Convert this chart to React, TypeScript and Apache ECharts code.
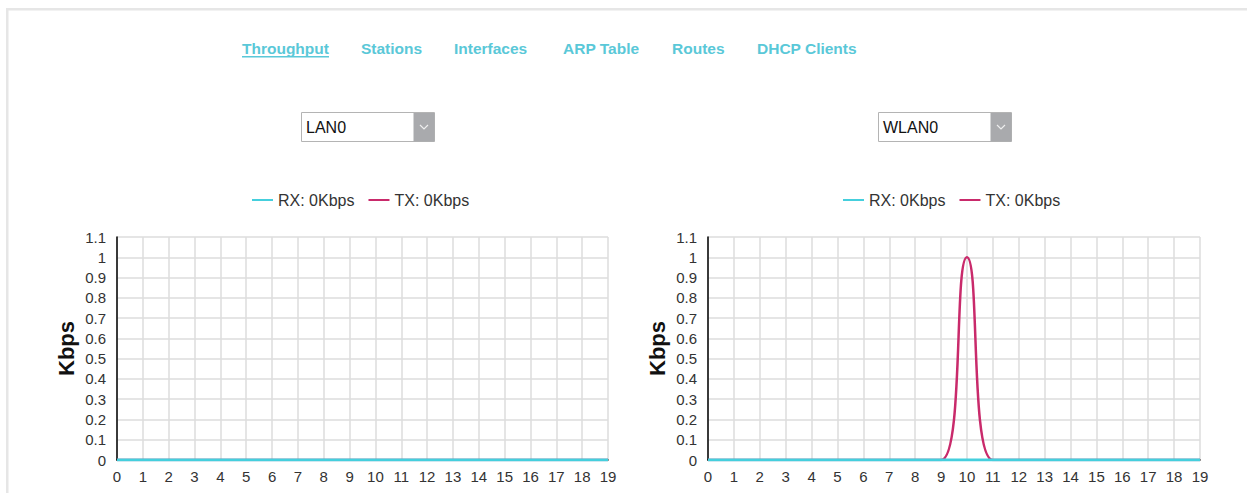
import React, { useEffect, useRef } from "react";
import * as echarts from "echarts";

// ---- data ----
const navLinks = ["Throughput", "Stations", "Interfaces", "ARP Table", "Routes", "DHCP Clients"];
const activeLink = "Throughput";
const interfaceNames = ["LAN0", "WLAN0"];
const seconds = [0, 1, 2, 3, 4, 5, 6, 7, 8, 9, 10, 11, 12, 13, 14, 15, 16, 17, 18, 19];
const lanRx = [0, 0, 0, 0, 0, 0, 0, 0, 0, 0, 0, 0, 0, 0, 0, 0, 0, 0, 0, 0];
const lanTx = [0, 0, 0, 0, 0, 0, 0, 0, 0, 0, 0, 0, 0, 0, 0, 0, 0, 0, 0, 0];
const wlanRx = [0, 0, 0, 0, 0, 0, 0, 0, 0, 0, 0, 0, 0, 0, 0, 0, 0, 0, 0, 0];
const wlanTx = [0, 0, 0, 0, 0, 0, 0, 0, 0, 0, 1, 0, 0, 0, 0, 0, 0, 0, 0, 0];
const rxName = "RX: 0Kbps";
const txName = "TX: 0Kbps";
const yAxisName = "Kbps";
const yMin = 0;
const yMax = 1.1;
const yStep = 0.1;
const xMin = 0;
const xMax = 19;
const xStep = 1;

// ---- layout / style ----
const W = 1247;
const H = 493;
const FONT = "'Liberation Sans', Arial, sans-serif";
const NAV_COLOR = "#5ac8d8";
const RX_COLOR = "#45cfdd";
const TX_COLOR = "#c92a6b";
const navX = [242, 361, 454, 563, 672, 757];
const navY = 48;
const selectX = [301, 878];
const selectY = 112;
const selectW = 133;
const selectH = 29;
const btnW = 21;
const grids = [
  { left: 117, top: 237, width: 491, height: 223 },
  { left: 708, top: 237, width: 492, height: 223 },
];
const legendLeft = [252, 843];
const legendTop = 192;

const pairs = (ys: number[]) => seconds.map((x, i) => [x, ys[i]]);

export default function App() {
  const ref = useRef<HTMLDivElement>(null);
  useEffect(() => {
    if (!ref.current) return;
    const chart = echarts.init(ref.current, undefined, { renderer: "svg" });

    const graphics: any[] = [
      { type: "rect", shape: { x: 6, y: 8, width: W - 6, height: 2.5 }, style: { fill: "#e6e6e6" }, silent: true },
      { type: "rect", shape: { x: 6, y: 8, width: 2.5, height: H - 8 }, style: { fill: "#e6e6e6" }, silent: true },
    ];
    navLinks.forEach((t, i) => {
      graphics.push({
        type: "text",
        x: navX[i],
        y: navY,
        style: {
          text: t,
          fill: NAV_COLOR,
          font: `bold 15.5px ${FONT}`,
          verticalAlign: "middle",
          align: "left",
        },
      });
    });
    // underline for active link
    const activeIdx = navLinks.indexOf(activeLink);
    graphics.push({
      type: "rect",
      shape: { x: navX[activeIdx], y: navY + 8, width: 87, height: 1.5 },
      style: { fill: NAV_COLOR },
    });
    interfaceNames.forEach((name, i) => {
      const x = selectX[i];
      graphics.push({
        type: "rect",
        shape: { x: x + 0.5, y: selectY + 0.5, width: selectW, height: selectH },
        style: { fill: "#fff", stroke: "#b4b4b4", lineWidth: 1 },
      });
      graphics.push({
        type: "rect",
        shape: { x: x + selectW - btnW + 0.5, y: selectY + 1, width: btnW, height: selectH - 0.5 },
        style: { fill: "#a9aaad" },
      });
      const cx = x + selectW - btnW / 2 + 0.5;
      const cy = selectY + selectH / 2 + 0.5;
      graphics.push({
        type: "polyline",
        shape: { points: [[cx - 4, cy - 2], [cx, cy + 2], [cx + 4, cy - 2]] },
        style: { stroke: "#eeeeee", lineWidth: 1.2, fill: "none" },
      });
      graphics.push({
        type: "text",
        x: x + 5,
        y: cy,
        style: { text: name, fill: "#111", font: `16px ${FONT}`, verticalAlign: "middle" },
      });
    });

    const xAxisCfg = (gi: number) => ({
      type: "value",
      gridIndex: gi,
      min: xMin,
      max: xMax,
      interval: xStep,
      axisLine: { show: true, onZero: false, lineStyle: { color: "#000", width: 1.5 } },
      axisTick: { show: false },
      axisLabel: { fontSize: 15, color: "#333", margin: 9, fontFamily: FONT },
      splitLine: { show: true, lineStyle: { color: "#dcdcdc", width: 1.5 } },
    });
    const yAxisCfg = (gi: number) => ({
      type: "value",
      gridIndex: gi,
      min: yMin,
      max: yMax,
      interval: yStep,
      name: yAxisName,
      nameLocation: "middle",
      nameRotate: 90,
      nameGap: 40,
      nameTextStyle: { fontSize: 22, fontWeight: "bold", color: "#111", fontFamily: FONT },
      axisLine: { show: true, lineStyle: { color: "#000", width: 1.5 } },
      axisTick: { show: false },
      axisLabel: { fontSize: 15, color: "#333", margin: 11, fontFamily: FONT },
      splitLine: { show: true, lineStyle: { color: "#dcdcdc", width: 1.5 } },
    });
    const lineSeries = (name: string, gi: number, ys: number[], color: string, width: number, z: number) => ({
      type: "line",
      name,
      xAxisIndex: gi,
      yAxisIndex: gi,
      data: pairs(ys),
      smooth: true,
      symbol: "none",
      z,
      itemStyle: { color },
      lineStyle: { color, width },
    });

    chart.setOption({
      animation: false,
      textStyle: { fontFamily: FONT },
      graphic: graphics,
      grid: grids.map((g) => ({ ...g, containLabel: false })),
      legend: legendLeft.map((l) => ({
        left: l,
        top: legendTop,
        padding: 0,
        itemGap: 14,
        itemWidth: 21,
        itemHeight: 2,
        icon: "rect",
        data: [rxName, txName],
        textStyle: { fontSize: 16, color: "#333", fontFamily: FONT },
        selectedMode: false,
      })),
      xAxis: [xAxisCfg(0), xAxisCfg(1)],
      yAxis: [yAxisCfg(0), yAxisCfg(1)],
      series: [
        lineSeries(txName, 0, lanTx, TX_COLOR, 2.5, 2),
        lineSeries(rxName, 0, lanRx, RX_COLOR, 3, 3),
        lineSeries(txName, 1, wlanTx, TX_COLOR, 2.5, 2),
        lineSeries(rxName, 1, wlanRx, RX_COLOR, 3, 3),
      ],
    });
    return () => chart.dispose();
  }, []);
  return (
    <div
      ref={ref}
      style={{ position: "absolute", left: 0, top: 0, width: W, height: H, background: "#fff" }}
    />
  );
}
